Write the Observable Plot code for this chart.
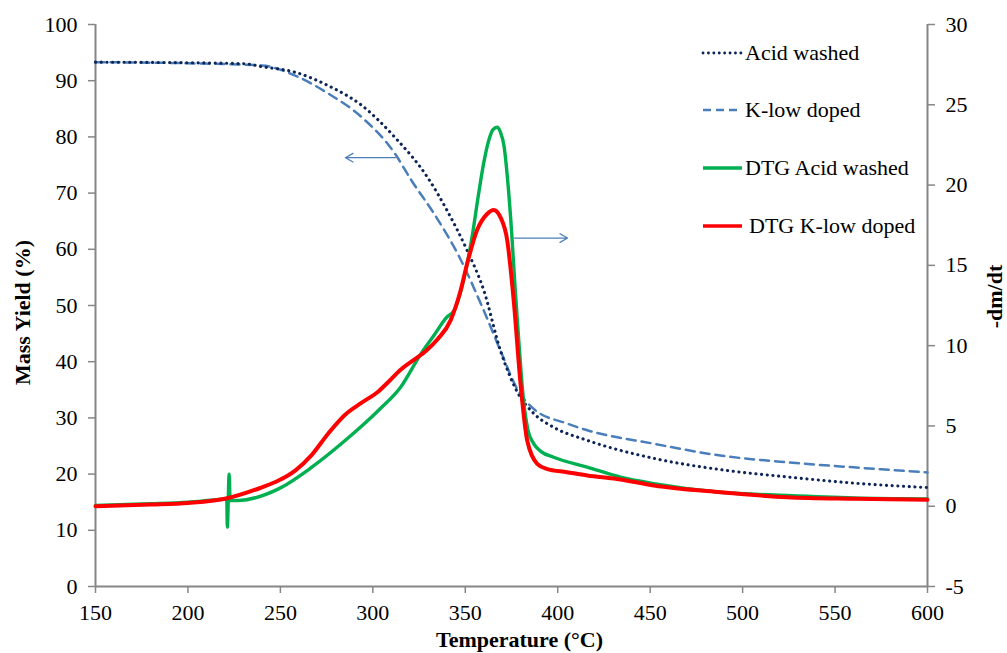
<!DOCTYPE html>
<html><head><meta charset="utf-8">
<script src="https://cdn.jsdelivr.net/npm/d3@7"></script>
<script src="https://cdn.jsdelivr.net/npm/@observablehq/plot@0.6"></script>
<style>
body{margin:0;background:#fff;}
#wrap{position:relative;width:1007px;height:653px;font-family:"Liberation Serif","Times New Roman",serif;overflow:hidden;}
#wrap svg{display:block;}
#legend{position:absolute;left:0;top:0;pointer-events:none;}
</style></head><body><div id="wrap"></div>
<script>
// ---- tick labels ----
const temperatureTicks = [150, 200, 250, 300, 350, 400, 450, 500, 550, 600];
const massTicks = [0, 10, 20, 30, 40, 50, 60, 70, 80, 90, 100];
const dtgTicks = [-5, 0, 5, 10, 15, 20, 25, 30];

// ---- series names ----
const seriesNames = ["Acid washed", "K-low doped", "DTG Acid washed", "DTG K-low doped"];

// ---- Acid washed (mass yield, %) ----
const awT    = [150, 200, 231, 240, 258, 276, 294, 312, 330, 340, 351, 360, 369, 378, 387, 398, 416, 452, 488, 524, 560, 600];
const awMass = [93.3, 93.2, 93.0, 92.5, 91.5, 89.1, 85.6, 79.9, 72.6, 67.0, 59.8, 52.7, 42.0, 34.7, 30.8, 28.3, 26.0, 22.8, 20.8, 19.5, 18.4, 17.6];

// ---- K-low doped (mass yield, %) ----
const klT    = [150, 200, 240, 258, 276, 294, 312, 321, 333, 347, 360, 369, 378, 387, 405, 416, 452, 488, 524, 560, 600];
const klMass = [93.3, 93.1, 92.7, 90.9, 87.7, 83.5, 77.0, 72.2, 66.4, 58.5, 49.1, 42.0, 35.2, 31.6, 29.0, 27.8, 25.4, 23.3, 22.1, 21.2, 20.3];

// ---- DTG Acid washed (-dm/dt) ----
const dawT   = [150, 180, 200, 215, 221.0, 221.3, 222.3, 222.8, 227.5, 249, 267, 285, 303, 315, 326, 333, 340, 344, 351, 354, 357, 360, 363, 365, 367.2, 369, 371, 373, 375, 377, 379, 381.5, 384, 387, 391, 397.8, 416, 434, 452, 488, 524, 560, 600];
const dawDtg = [0.05, 0.15, 0.25, 0.4, 0.45, -1.3, 2.0, 0.35, 0.36, 1.08, 2.43, 4.09, 5.96, 7.41, 9.49, 10.63, 11.77, 12.2, 15.1, 17.0, 19.3, 21.4, 22.9, 23.45, 23.6, 23.3, 22.4, 20.2, 17.2, 13.5, 10.2, 6.6, 4.7, 3.9, 3.4, 3.05, 2.43, 1.81, 1.41, 0.87, 0.67, 0.52, 0.46];

// ---- DTG K-low doped (-dm/dt) ----
const dklT   = [150, 180, 200, 220, 240, 249, 258, 267, 276, 285, 294, 303, 308.5, 315, 322, 329, 335, 342, 347.4, 351, 356.4, 361.8, 365.4, 369, 372.7, 376.2, 379.9, 383.5, 388.9, 394, 405, 416, 432, 452, 488, 524, 560, 600];
const dklDtg = [0.0, 0.1, 0.2, 0.46, 1.18, 1.6, 2.22, 3.2, 4.55, 5.7, 6.45, 7.15, 7.75, 8.5, 9.1, 9.7, 10.4, 11.56, 13.4, 15.1, 17.2, 18.2, 18.45, 18.0, 16.55, 12.8, 7.62, 4.09, 2.64, 2.33, 2.12, 1.91, 1.7, 1.29, 0.87, 0.56, 0.46, 0.4];

// ---- annotation arrows (temperature, axis value) ----
const arrowLeftT  = [312.2, 285.2];
const arrowLeftMass = 76.3;
const arrowRightT = [376.5, 405.3];
const arrowRightDtg = 16.7;

// map DTG values onto the left (mass) scale: -5..30 -> 0..100
const toLeft = d => (d + 5) * 100 / 35;
const fromLeft = m => Math.round(m * 35 / 100 - 5);

const aw  = awT.map((t, i) => ({t, v: awMass[i]}));
const kl  = klT.map((t, i) => ({t, v: klMass[i]}));
const daw = dawT.map((t, i) => ({t, v: toLeft(dawDtg[i])}));
const dkl = dklT.map((t, i) => ({t, v: toLeft(dklDtg[i])}));

const C = {
  aw: "#0c2456", kl: "#4a7ebb", daw: "#00b050", dkl: "#ff0000", axis: "#868686", arrow: "#4a7ebb"
};
const F = "Liberation Serif, Times New Roman, serif";
const tickFont = 22;

const chart = Plot.plot({
  width: 1007, height: 653,
  marginLeft: 95, marginRight: 80, marginTop: 24, marginBottom: 67,
  style: {fontFamily: F, fontSize: tickFont + "px", background: "white", color: "black"},
  x: {domain: [150, 600]},
  y: {domain: [0, 100]},
  marks: [
    Plot.axisX({ticks: temperatureTicks, tickSize: 7, tickPadding: 11, stroke: C.axis, strokeWidth: 1.5, fill: "black", fontSize: tickFont, label: null, tickFormat: d3.format("d")}),
    Plot.axisY({ticks: massTicks, anchor: "left", tickSize: 7, tickPadding: 11, stroke: C.axis, strokeWidth: 1.5, fill: "black", fontSize: tickFont, label: null, tickFormat: d3.format("d")}),
    Plot.axisY({ticks: dtgTicks.map(toLeft), anchor: "right", tickSize: 7, tickPadding: 11, stroke: C.axis, strokeWidth: 1.5, fill: "black", fontSize: tickFont, label: null, tickFormat: m => String(fromLeft(m))}),
    Plot.ruleY([0], {stroke: C.axis, strokeWidth: 2}),
    Plot.ruleX([150], {stroke: C.axis, strokeWidth: 2}),
    Plot.ruleX([600], {stroke: C.axis, strokeWidth: 2}),
    Plot.line(kl, {x: "t", y: "v", stroke: C.kl, strokeWidth: 2.5, strokeDasharray: "9,6", curve: "monotone-x"}),
    Plot.line(aw, {x: "t", y: "v", stroke: C.aw, strokeWidth: 3.1, strokeDasharray: "0.1,5.6", strokeLinecap: "round", curve: "monotone-x"}),
    Plot.line(daw, {x: "t", y: "v", stroke: C.daw, strokeWidth: 3.4, curve: "monotone-x"}),
    Plot.line(dkl, {x: "t", y: "v", stroke: C.dkl, strokeWidth: 4, curve: "monotone-x"}),
    Plot.arrow([0], {x1: () => arrowLeftT[0], x2: () => arrowLeftT[1], y1: () => arrowLeftMass, y2: () => arrowLeftMass, stroke: C.arrow, strokeWidth: 1.3, headLength: 10, bend: 0}),
    Plot.arrow([0], {x1: () => arrowRightT[0], x2: () => arrowRightT[1], y1: () => toLeft(arrowRightDtg), y2: () => toLeft(arrowRightDtg), stroke: C.arrow, strokeWidth: 1.3, headLength: 10, bend: 0}),
    Plot.text(["Temperature (°C)"], {frameAnchor: "bottom", textAnchor: "middle", dx: 8, dy: 60, fontWeight: "bold", fontSize: 22, fill: "black"}),
    Plot.text(["Mass Yield (%)"], {frameAnchor: "left", textAnchor: "middle", rotate: -90, dx: -73, dy: 7, fontWeight: "bold", fontSize: 22, fill: "black"}),
    Plot.text(["-dm/dt"], {frameAnchor: "right", textAnchor: "middle", rotate: -90, dx: 67, dy: -9, fontWeight: "bold", fontSize: 22, fill: "black"})
  ]
});

const wrap = document.getElementById("wrap");
wrap.appendChild(chart);

// legend overlay
const legendY = [53, 110, 168, 226];
const legendTextX = [745, 745, 745, 749];
const legendStyles = [
  {stroke: C.aw, w: 2.8, dash: "0.1,5.3", cap: "round"},
  {stroke: C.kl, w: 2.4, dash: "8,5", cap: "butt"},
  {stroke: C.daw, w: 3.4, dash: null, cap: "butt"},
  {stroke: C.dkl, w: 3.4, dash: null, cap: "butt"}
];
const lg = d3.select(wrap).append("svg").attr("id", "legend").attr("width", 1007).attr("height", 653);
seriesNames.forEach((name, i) => {
  const s = legendStyles[i];
  lg.append("line").attr("x1", 703).attr("x2", 742).attr("y1", legendY[i]).attr("y2", legendY[i])
    .attr("stroke", s.stroke).attr("stroke-width", s.w).attr("stroke-linecap", s.cap)
    .attr("stroke-dasharray", s.dash);
  lg.append("text").attr("x", legendTextX[i]).attr("y", legendY[i]).attr("dy", "0.33em")
    .attr("font-family", F).attr("font-size", 22).attr("fill", "black").text(name);
});
</script></body></html>
